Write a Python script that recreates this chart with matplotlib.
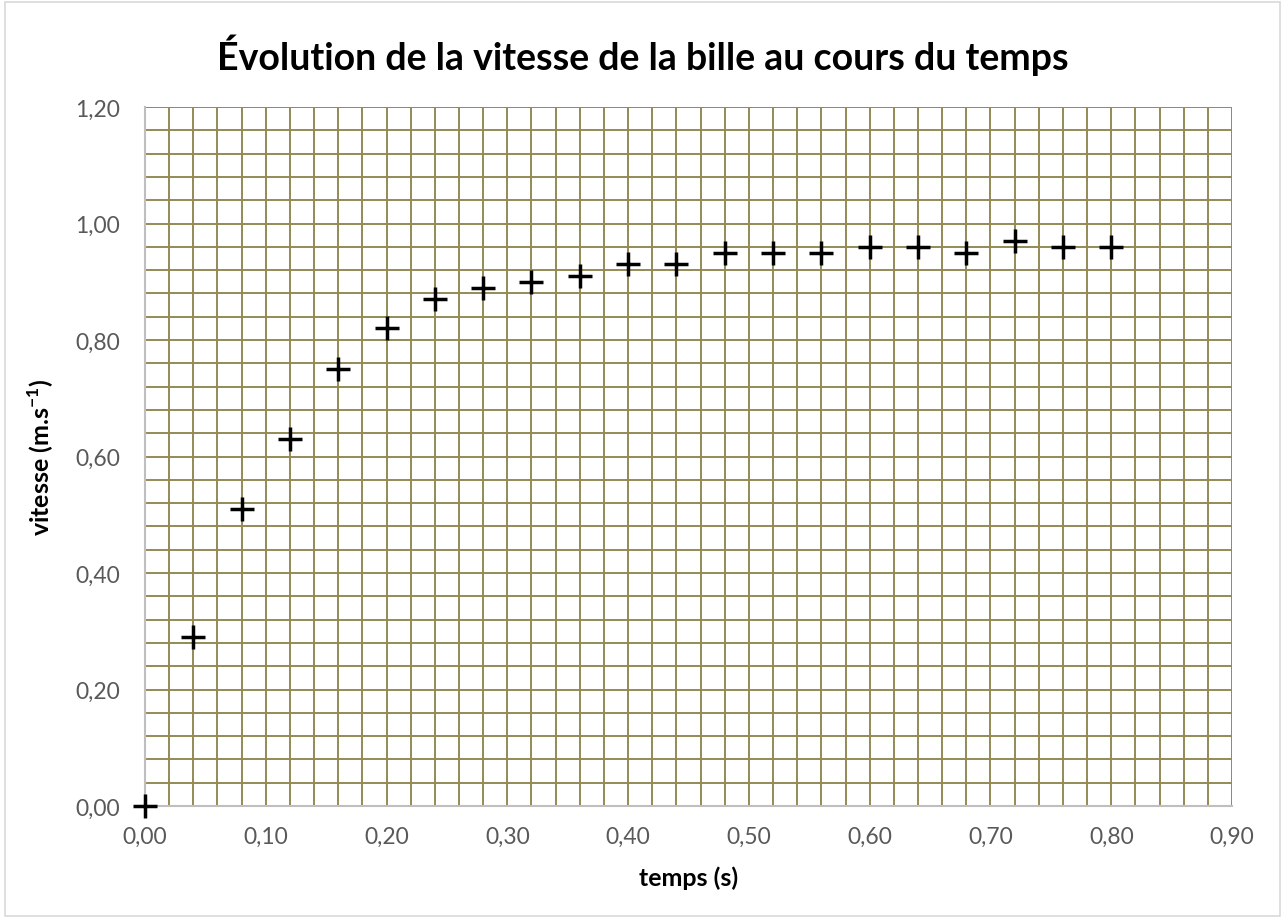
import matplotlib
matplotlib.use("Agg")
from matplotlib import pyplot as plt
from matplotlib.patches import Rectangle
from matplotlib.ticker import MultipleLocator, FuncFormatter

# mesures : temps (s) et vitesse (m/s)
temps = [0.00, 0.04, 0.08, 0.12, 0.16, 0.20, 0.24, 0.28, 0.32, 0.36, 0.40,
         0.44, 0.48, 0.52, 0.56, 0.60, 0.64, 0.68, 0.72, 0.76, 0.80]
vitesse = [0.00, 0.29, 0.51, 0.63, 0.75, 0.82, 0.87, 0.89, 0.90, 0.91, 0.93,
           0.93, 0.95, 0.95, 0.95, 0.96, 0.96, 0.95, 0.97, 0.96, 0.96]

title = "Évolution de la vitesse de la bille au cours du temps"
xlabel = "temps (s)"
ylabel = r"vitesse (m.s$^{\mathbf{-1}}$)"

plt.rcParams["font.family"] = ["Lato", "DejaVu Sans"]
plt.rcParams["mathtext.fontset"] = "custom"
plt.rcParams["mathtext.bf"] = "Lato:bold"
plt.rcParams["mathtext.rm"] = "Lato"

grid_col = "#948a54"
axis_col = "#bfbfbf"
text_col = "#595959"

fig = plt.figure(figsize=(12.85, 9.2), dpi=100)
ax = fig.add_axes([0.1128, 0.1228, 0.846, 0.7598])

# cadre du graphique
fig.patches.append(Rectangle((0.004, 0.003), 0.992, 0.994, transform=fig.transFigure,
                             fill=False, edgecolor="#d9d9d9", linewidth=1.2))

ax.scatter(temps, vitesse, marker="+", s=290, color="black", linewidths=2.5,
           zorder=5, clip_on=False)

ax.set_xlim(0, 0.9)
ax.set_ylim(0, 1.2)
ax.xaxis.set_major_locator(MultipleLocator(0.1))
ax.xaxis.set_minor_locator(MultipleLocator(0.02))
ax.yaxis.set_major_locator(MultipleLocator(0.2))
ax.yaxis.set_minor_locator(MultipleLocator(0.04))

fmt = FuncFormatter(lambda v, p: f"{v:.2f}".replace(".", ","))
ax.xaxis.set_major_formatter(fmt)
ax.yaxis.set_major_formatter(fmt)

ax.grid(which="both", color=grid_col, linewidth=1.4)
ax.set_axisbelow(True)

for s in ["top", "right"]:
    ax.spines[s].set_visible(False)
for s in ["left", "bottom"]:
    ax.spines[s].set_color(axis_col)
    ax.spines[s].set_linewidth(1.5)
    ax.spines[s].set_zorder(3)

ax.tick_params(which="both", length=0)
ax.tick_params(axis="x", pad=14, labelsize=16.5, labelcolor=text_col)
ax.tick_params(axis="y", pad=18, labelsize=16.5, labelcolor=text_col)

ax.set_xlabel(xlabel, fontsize=18, fontweight="bold", labelpad=14)
ax.set_ylabel(ylabel, fontsize=18, fontweight="bold", labelpad=14)
fig.suptitle(title, fontsize=27, fontweight="bold", y=0.962)

fig.savefig("out.png", dpi=100)
